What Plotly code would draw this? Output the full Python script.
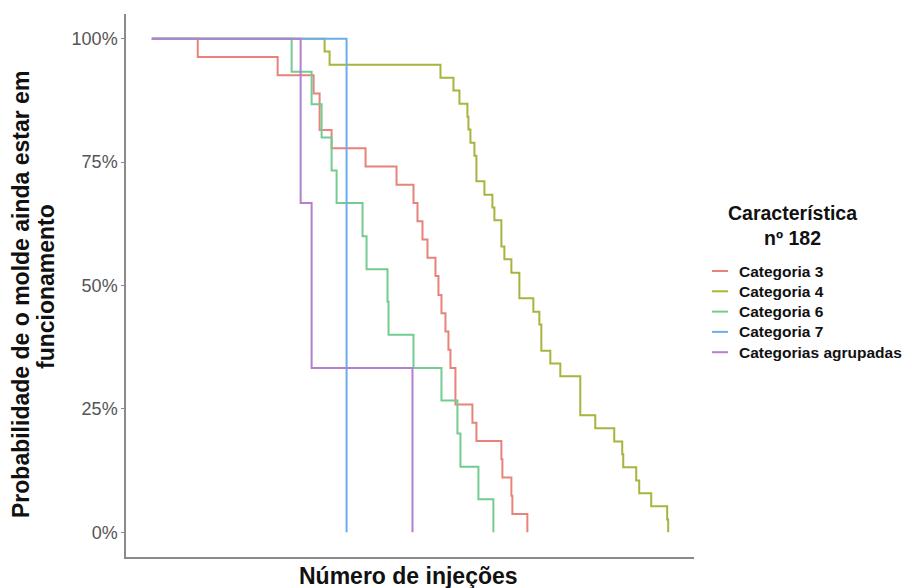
import plotly.graph_objects as go

# ---- data (number of injections vs. survival probability) ----
names = ["Categoria 3", "Categoria 4", "Categoria 6", "Categoria 7", "Categorias agrupadas"]

cat3_t = [0, 46, 126, 162, 168, 180, 214, 245, 262, 266, 271, 276, 284, 287, 290, 294, 297, 299,
          304, 321, 325, 350, 351, 360, 361, 376]
cat3_s = [1.0, 0.963, 0.926, 0.889, 0.815, 0.778, 0.741, 0.704, 0.667, 0.630, 0.593, 0.556, 0.519,
          0.481, 0.444, 0.407, 0.370, 0.333, 0.259, 0.222, 0.185, 0.148, 0.111, 0.074, 0.037, 0.0]

cat4_t = [0, 173, 178, 289, 302, 308, 316, 317, 319, 323, 325, 333, 341, 343, 350, 353, 360, 368,
          382, 388, 390, 399, 409, 429, 444, 463, 471, 472, 485, 488, 500, 516, 517]
cat4_s = [1.0, 0.974, 0.947, 0.921, 0.895, 0.868, 0.842, 0.816, 0.789, 0.763, 0.711, 0.684, 0.658,
          0.632, 0.579, 0.553, 0.526, 0.474, 0.447, 0.421, 0.368, 0.342, 0.316, 0.237, 0.211, 0.184,
          0.158, 0.132, 0.105, 0.079, 0.053, 0.026, 0.0]

cat6_t = [0, 140, 160, 170, 180, 185, 211, 215, 236, 237, 262, 290, 306, 309, 327, 342]
cat6_s = [1.0, 0.933, 0.867, 0.800, 0.733, 0.667, 0.600, 0.533, 0.467, 0.400, 0.333, 0.267, 0.200,
          0.133, 0.067, 0.0]

cat7_t = [0, 195]
cat7_s = [1.0, 0.0]

agr_t = [0, 149, 160, 261]
agr_s = [1.0, 0.667, 0.333, 0.0]

y_ticks = [0, 0.25, 0.5, 0.75, 1.0]
y_ticklabels = ["0%", "25%", "50%", "75%", "100%"]

legend_title = "Característica<br>nº 182"
x_title = "Número de injeções"
y_title_lines = ["Probabilidade de o molde ainda estar em", "funcionamento"]

colors = ["#E8837B", "#A9B43E", "#74CC92", "#6AAEEC", "#B47FCC"]

series = [(cat3_t, cat3_s), (cat4_t, cat4_s), (cat6_t, cat6_s), (cat7_t, cat7_s), (agr_t, agr_s)]

fig = go.Figure()
for name, (t, s), c in zip(names, series, colors):
    fig.add_trace(go.Scatter(x=t, y=s, mode="lines", name=name, showlegend=False,
                             line=dict(color=c, width=2, shape="hv")))

FONT = "Liberation Sans, Arial, Helvetica, sans-serif"
xmax = max(max(t) for t, _ in series)
pad = 0.05 * xmax

# page has an 8px body margin: figure 904x580 placed at (8, 8)
PL, PT, PR, PB = 126, 14, 694, 557   # plot area in page pixels
W, H = 904, 580


def px_x(px):
    return (px - PL) / (PR - PL)


def px_y(py):
    return (PB - py) / (PB - PT)


annotations = [
    dict(text=x_title, xref="paper", yref="paper",
         x=px_x(408), y=px_y(576), xanchor="center", yanchor="middle", showarrow=False,
         font=dict(size=23, color="#111", family=FONT, weight="bold")),
    dict(text=y_title_lines[0], xref="paper", yref="paper", x=px_x(21), y=px_y(295),
         xanchor="center", yanchor="middle", textangle=-90, showarrow=False,
         font=dict(size=23, color="#111", family=FONT, weight="bold")),
    dict(text=y_title_lines[1], xref="paper", yref="paper", x=px_x(46), y=px_y(287),
         xanchor="center", yanchor="middle", textangle=-90, showarrow=False,
         font=dict(size=23, color="#111", family=FONT, weight="bold")),
    dict(text=legend_title, xref="paper", yref="paper",
         x=px_x(792), y=px_y(225), xanchor="center", yanchor="middle", showarrow=False,
         font=dict(size=19.5, color="#111", family=FONT, weight="bold")),
]
shapes = []
leg_y0, leg_dy = 271, 20.3
for i, (name, c) in enumerate(zip(names, colors)):
    yy = px_y(leg_y0 + i * leg_dy)
    shapes.append(dict(type="line", xref="paper", yref="paper", x0=px_x(712), x1=px_x(728),
                       y0=yy, y1=yy, line=dict(color=c, width=2)))
    annotations.append(dict(text=name, xref="paper", yref="paper", x=px_x(737), y=yy,
                            xanchor="left", yanchor="middle", showarrow=False,
                            font=dict(size=15.5, color="#111", family=FONT, weight="bold")))

fig.update_layout(
    width=W, height=H,
    margin=dict(l=PL - 8, r=(W + 8) - PR, t=PT - 8, b=(H + 8) - PB),
    paper_bgcolor="white", plot_bgcolor="white",
    font=dict(family=FONT),
    showlegend=False,
    xaxis=dict(
        range=[-pad, xmax + pad], showgrid=False, zeroline=False,
        showline=True, linecolor="#8a8a8a", linewidth=1.5,
        ticks="", showticklabels=False,
    ),
    yaxis=dict(
        range=[-0.05, 1.05], showgrid=False, zeroline=False,
        showline=True, linecolor="#8a8a8a", linewidth=1.5,
        ticks="outside", ticklen=3, tickcolor="#8a8a8a", tickwidth=1,
        tickvals=y_ticks, ticktext=y_ticklabels,
        tickfont=dict(size=18, color="#555", family=FONT),
    ),
    annotations=annotations,
    shapes=shapes,
)

fig.write_html("out.html")
